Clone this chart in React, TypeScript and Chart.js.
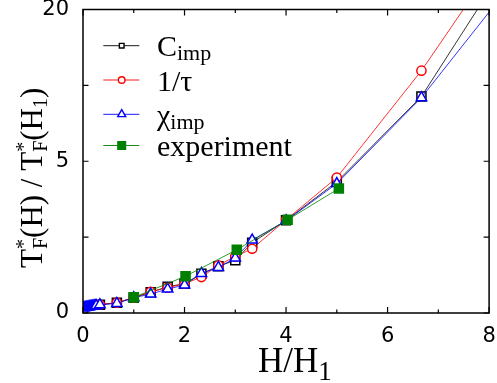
import React, { useEffect, useRef } from 'react';
import { Chart, registerables, LinearScale } from 'chart.js';

// ---------- data ----------
const H_THEORY = [0, 0.333, 0.667, 1, 1.333, 1.667, 2, 2.333, 2.667, 3, 3.333, 4, 5, 6.667, 10];
const C_IMP = [0.002, 0.015, 0.023, 0.051, 0.094, 0.15, 0.186, 0.334, 0.475, 0.604, 1.071, 1.866, 3.736, 10.17, 50];
const INV_TAU = [0.002, 0.015, 0.023, 0.051, 0.098, 0.139, 0.186, 0.281, 0.491, 0.694, 0.896, 1.886, 3.985, 12.75, 52];
const H_CHI = [0, 0.02, 0.04, 0.06, 0.08, 0.1, 0.12, 0.14, 0.16, 0.18, 0.2, 0.22, 0.24, 0.26,
  0.333, 0.667, 1, 1.333, 1.667, 2, 2.333, 2.667, 3, 3.333, 4, 5, 6.667, 10];
const CHI_IMP = [0.006, 0.0062, 0.0068, 0.007, 0.0076, 0.008, 0.0086, 0.009, 0.0097, 0.01, 0.0106, 0.011, 0.0117, 0.012,
  0.015, 0.02, 0.051, 0.078, 0.125, 0.17, 0.34, 0.451, 0.656, 1.155, 1.846, 3.64, 10.07, 40];
const H_EXP = [1.0, 2.02, 3.03, 4.03, 5.04];
const EXPERIMENT = [0.053, 0.294, 0.868, 1.886, 3.364];

const X_MIN = 0;
const X_MAX = 8;
const X_MAJOR_TICKS = [0, 2, 4, 6, 8];
const X_MINOR_TICKS = [1, 3, 5, 7];
const Y_MIN = 0;
const Y_MAX = 20;
const Y_TICKS = [0, 1.25, 5, 11.25, 20];
const Y_TICK_LABELS = ['0', '', '5', '', '20'];

const SERIES_LABELS = ['Cimp', '1/τ', 'χimp', 'experiment'];
const SERIES_COLORS = ['#000000', '#ff0000', '#0000ff', '#008000'];

// ---------- square-root scale ----------
class SqrtScale extends LinearScale {
  static id = 'sqrt';
  buildTicks() {
    return Y_TICKS.map((value) => ({ value }));
  }
  getPixelForValue(value: number) {
    const a = Math.sqrt(Math.max(this.min, 0));
    const b = Math.sqrt(this.max);
    return this.getPixelForDecimal((Math.sqrt(Math.max(value, 0)) - a) / (b - a));
  }
  getValueForPixel(pixel: number) {
    const a = Math.sqrt(Math.max(this.min, 0));
    const b = Math.sqrt(this.max);
    const s = a + this.getDecimalForPixel(pixel) * (b - a);
    return s * s;
  }
}

Chart.register(...registerables, SqrtScale);

const SERIF = '"Liberation Serif", "Times New Roman", serif';
const SANS = '"DejaVu Sans", sans-serif';

type Part = { t?: string; size?: number; dy?: number; stack?: Part[] };

function drawRich(ctx: CanvasRenderingContext2D, parts: Part[], x: number, y: number, family: string) {
  let cx = x;
  for (const p of parts) {
    if (p.stack) {
      let w = 0;
      for (const q of p.stack) {
        ctx.font = `${q.size}px ${family}`;
        ctx.fillText(q.t!, cx, y + (q.dy || 0));
        w = Math.max(w, ctx.measureText(q.t!).width);
      }
      cx += w;
    } else {
      ctx.font = `${p.size}px ${family}`;
      ctx.fillText(p.t!, cx, y + (p.dy || 0));
      cx += ctx.measureText(p.t!).width;
    }
  }
  return cx - x;
}

function drawMarker(
  ctx: CanvasRenderingContext2D, style: string, x: number, y: number, r: number,
  stroke: string, fill: string, lw: number
) {
  ctx.save();
  ctx.beginPath();
  ctx.lineWidth = lw;
  ctx.strokeStyle = stroke;
  ctx.fillStyle = fill;
  if (style === 'rect') {
    const s = r * Math.SQRT1_2;
    ctx.rect(x - s, y - s, 2 * s, 2 * s);
  } else if (style === 'circle') {
    ctx.arc(x, y, r, 0, Math.PI * 2);
  } else {
    ctx.moveTo(x, y - r);
    ctx.lineTo(x + r * 0.866, y + r * 0.5);
    ctx.lineTo(x - r * 0.866, y + r * 0.5);
    ctx.closePath();
  }
  ctx.fill();
  ctx.stroke();
  ctx.restore();
}

const framePlugin = {
  id: 'frame',
  afterDraw(chart: any) {
    const ctx: CanvasRenderingContext2D = chart.ctx;
    const { left, right, top, bottom } = chart.chartArea;
    const xs = chart.scales.x;
    const ys = chart.scales.y;
    ctx.save();
    // frame
    ctx.strokeStyle = '#000';
    ctx.lineWidth = 1.5;
    ctx.strokeRect(left, top, right - left, bottom - top);
    // inward ticks
    ctx.lineWidth = 1.2;
    ctx.beginPath();
    const xt = (vals: number[], len: number) => {
      for (const v of vals) {
        const px = xs.getPixelForValue(v);
        ctx.moveTo(px, bottom); ctx.lineTo(px, bottom - len);
        ctx.moveTo(px, top); ctx.lineTo(px, top + len);
      }
    };
    xt(X_MAJOR_TICKS, 6);
    xt(X_MINOR_TICKS, 3.5);
    for (const v of Y_TICKS) {
      const py = ys.getPixelForValue(v);
      ctx.moveTo(left, py); ctx.lineTo(left + 5.5, py);
      ctx.moveTo(right, py); ctx.lineTo(right - 5.5, py);
    }
    ctx.stroke();

    // axis titles
    ctx.fillStyle = '#000';
    ctx.textBaseline = 'alphabetic';
    ctx.textAlign = 'left';
    drawRich(ctx, [
      { t: 'H/H', size: 35 },
      { t: '1', size: 27, dy: 8 },
    ], 258, 371.5, SERIF);

    ctx.save();
    ctx.translate(42, 268);
    ctx.rotate(-Math.PI / 2);
    drawRich(ctx, [
      { t: 'T', size: 31 },
      { stack: [{ t: '*', size: 20, dy: -12 }, { t: 'F', size: 20, dy: 5 }] },
      { t: '(H) / T', size: 31 },
      { stack: [{ t: '*', size: 20, dy: -12 }, { t: 'F', size: 20, dy: 5 }] },
      { t: '(H', size: 31 },
      { t: '1', size: 20, dy: 5 },
      { t: ')', size: 31 },
    ], 0, 0, SERIF);
    ctx.restore();

    // legend
    const rows = [45.7, 80, 114.3, 145.5];
    const styles = ['rect', 'circle', 'triangle', 'rect'];
    const radii = [3.3, 3.3, 4.6, 5.4];
    const fills = ['#ffffff', '#ffffff', '#ffffff', SERIES_COLORS[3]];
    const texts: Part[][] = [
      [{ t: 'C', size: 30 }, { t: 'imp', size: 22, dy: 4 }],
      [{ t: '1/τ', size: 30 }],
      [{ t: 'χ', size: 30 }, { t: 'imp', size: 22, dy: 4 }],
      [{ t: 'experiment', size: 30 }],
    ];
    rows.forEach((y, i) => {
      ctx.strokeStyle = SERIES_COLORS[i];
      ctx.lineWidth = 0.9;
      ctx.beginPath();
      ctx.moveTo(103.3, y);
      ctx.lineTo(139.3, y);
      ctx.stroke();
      drawMarker(ctx, styles[i], 121.7, y, radii[i], SERIES_COLORS[i], fills[i], 1.4);
      ctx.fillStyle = '#000';
      drawRich(ctx, texts[i], 157, y + 10.5, SERIF);
    });
    ctx.restore();
  },
};

function pts(xs: number[], ys: number[]) {
  return xs.map((x, i) => ({ x, y: ys[i] }));
}

export default function App() {
  const ref = useRef<HTMLCanvasElement>(null);
  useEffect(() => {
    if (!ref.current) return;
    const common = { borderWidth: 0.8, pointBorderWidth: 1.5, tension: 0, fill: false };
    const chart = new Chart(ref.current, {
      type: 'line',
      data: {
        datasets: [
          {
            ...common, label: SERIES_LABELS[0], data: pts(H_THEORY, C_IMP),
            borderColor: SERIES_COLORS[0], pointBackgroundColor: '#ffffff',
            pointStyle: 'rect', pointRadius: 6.4, order: 3,
          },
          {
            ...common, label: SERIES_LABELS[1], data: pts(H_THEORY, INV_TAU),
            borderColor: SERIES_COLORS[1], pointBackgroundColor: '#ffffff',
            pointStyle: 'circle', pointRadius: 4.6, order: 2,
          },
          {
            ...common, label: SERIES_LABELS[2], data: pts(H_CHI, CHI_IMP),
            borderColor: SERIES_COLORS[2], pointBackgroundColor: '#ffffff',
            pointStyle: 'triangle', pointRadius: 6, order: 1,
          },
          {
            ...common, label: SERIES_LABELS[3], data: pts(H_EXP, EXPERIMENT),
            borderColor: SERIES_COLORS[3], pointBackgroundColor: SERIES_COLORS[3],
            pointStyle: 'rect', pointRadius: 6.4, order: 0,
          },
        ],
      } as any,
      options: {
        animation: false,
        responsive: false,
        maintainAspectRatio: false,
        layout: { padding: { left: 0, right: 5, top: 9.5, bottom: 0 } },
        plugins: { legend: { display: false }, tooltip: { enabled: false } },
        scales: {
          x: {
            type: 'linear', min: X_MIN, max: X_MAX,
            grid: { display: false }, border: { display: false },
            ticks: {
              stepSize: 2, autoSkip: false, maxRotation: 0, color: '#000', padding: 3,
              font: { family: SANS, size: 21 },
            },
            afterFit: (s: any) => { s.height = 70; s.paddingLeft = 0; s.paddingRight = 0; },
          },
          y: {
            type: 'sqrt', min: Y_MIN, max: Y_MAX,
            grid: { display: false }, border: { display: false },
            ticks: {
              autoSkip: false, color: '#000', padding: 6,
              font: { family: SANS, size: 21 },
              callback: (_v: any, i: number) => Y_TICK_LABELS[i],
            },
            afterFit: (s: any) => { s.width = 83; s.paddingTop = 0; s.paddingBottom = 0; },
          },
        } as any,
      },
      plugins: [framePlugin],
    });
    return () => chart.destroy();
  }, []);
  return (
    <div style={{ position: 'fixed', left: 0, top: 0, width: 497, height: 383, background: '#fff' }}>
      <canvas ref={ref} width={497} height={383} style={{ display: 'block' }} />
    </div>
  );
}
